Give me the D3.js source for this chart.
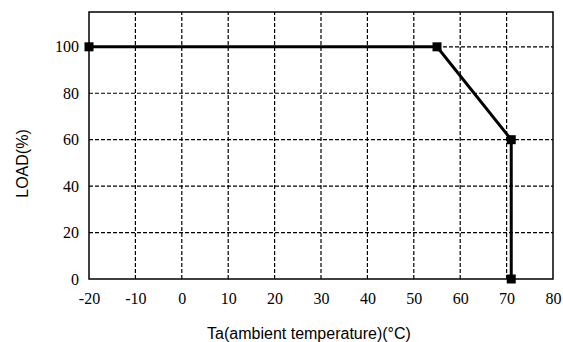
<!DOCTYPE html>
<html><head><meta charset="utf-8">
<script src="https://cdn.jsdelivr.net/npm/d3@7"></script>
<style>body{margin:0;background:#fff}svg{display:block}</style>
</head><body>
<script>
const xTicks = [-20,-10,0,10,20,30,40,50,60,70,80];
const yTicks = [0,20,40,60,80,100];
const temps = [-20,55,71,71];
const loads = [100,100,60,0];
const xTitle = "Ta(ambient temperature)(°C)";
const yTitle = "LOAD(%)";

const W=563,H=342;
const m={l:89,r:10,t:12,b:63};
const svg=d3.select("body").append("svg").attr("width",W).attr("height",H);
const x=d3.scaleLinear().domain([-20,80]).range([m.l,W-m.r]);
const y=d3.scaleLinear().domain([0,115]).range([H-m.b,m.t]);

const g=svg.append("g");
g.selectAll(".vx").data(xTicks.filter(d=>d>-20&&d<80)).join("line")
 .attr("x1",d=>x(d)).attr("x2",d=>x(d)).attr("y1",y(0)).attr("y2",y(115))
 .attr("stroke","#000").attr("stroke-width",1.2).attr("stroke-dasharray","4,2");
g.selectAll(".hy").data(yTicks.filter(d=>d>0)).join("line")
 .attr("x1",x(-20)).attr("x2",x(80)).attr("y1",d=>y(d)).attr("y2",d=>y(d))
 .attr("stroke","#000").attr("stroke-width",1.2).attr("stroke-dasharray","4,2");
g.append("rect").attr("x",x(-20)).attr("y",y(115)).attr("width",x(80)-x(-20)).attr("height",y(0)-y(115))
 .attr("fill","none").attr("stroke","#000").attr("stroke-width",1.5);

const fmt=d=>String(d);
const xa=d3.axisBottom(x).tickValues(xTicks).tickFormat(fmt).tickSize(0).tickPadding(14);
svg.append("g").attr("transform",`translate(0,${y(0)})`).call(xa)
 .call(s=>s.select(".domain").remove())
 .selectAll("text").attr("font-family","'Liberation Serif','Times New Roman',serif").attr("font-size",16).attr("fill","#000");
const ya=d3.axisLeft(y).tickValues(yTicks).tickFormat(fmt).tickSize(0).tickPadding(10);
svg.append("g").attr("transform",`translate(${x(-20)},0)`).call(ya)
 .call(s=>s.select(".domain").remove())
 .selectAll("text").attr("font-family","'Liberation Serif','Times New Roman',serif").attr("font-size",16).attr("fill","#000");

const pts=temps.map((t,i)=>[t,loads[i]]);
svg.append("path").datum(pts)
 .attr("d",d3.line().x(d=>x(d[0])).y(d=>y(d[1])))
 .attr("fill","none").attr("stroke","#000").attr("stroke-width",3);
svg.selectAll(".mk").data(pts).join("rect")
 .attr("x",d=>x(d[0])-4.5).attr("y",d=>y(d[1])-4.5).attr("width",9).attr("height",9).attr("fill","#000");

svg.append("text").attr("x",(x(-20)+x(80))/2-12).attr("y",339).attr("text-anchor","middle")
 .attr("font-family","'Liberation Sans',Arial,sans-serif").attr("font-size",16).text(xTitle);
svg.append("text").attr("transform",`translate(28,${(y(0)+y(115))/2+18}) rotate(-90)`).attr("text-anchor","middle")
 .attr("font-family","'Liberation Sans',Arial,sans-serif").attr("font-size",16).text(yTitle);
</script>
</body></html>
